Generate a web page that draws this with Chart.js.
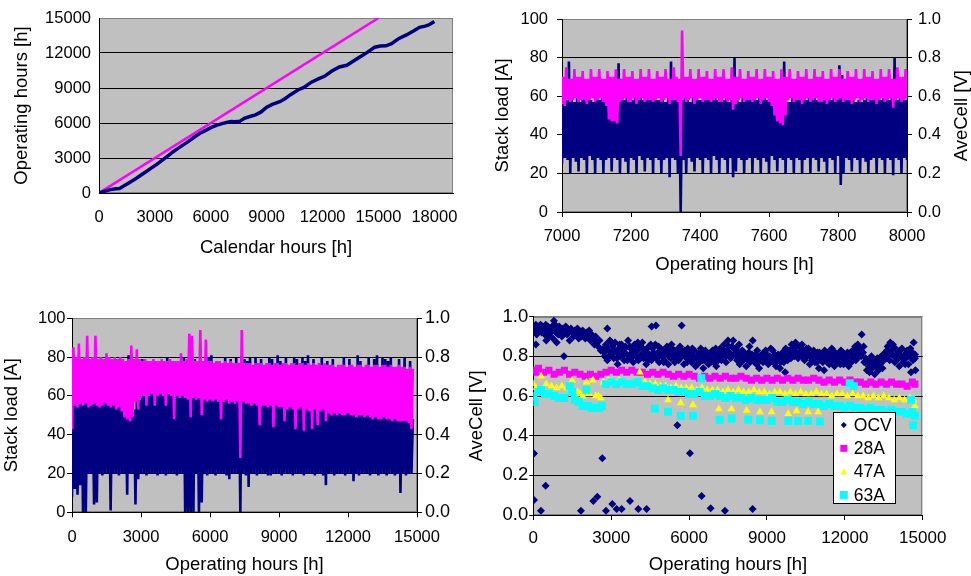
<!DOCTYPE html>
<html><head><meta charset="utf-8">
<script src="https://cdn.jsdelivr.net/npm/chart.js@4/dist/chart.umd.min.js"></script>
<style>
html,body{margin:0;padding:0;background:#fff;}
body{width:971px;height:576px;position:relative;overflow:hidden;}
.box{position:absolute;overflow:hidden;}
canvas{position:absolute;}
</style></head><body>
<div class="box" style="left:0;top:0;width:480px;height:270px"><canvas id="c1" width="480" height="270" style="left:0;top:0;width:480px;height:270px"></canvas></div>
<div class="box" style="left:480px;top:0;width:491px;height:285px"><canvas id="c2" width="491" height="285" style="left:0;top:0;width:491px;height:285px"></canvas></div>
<div class="box" style="left:0;top:295px;width:454px;height:281px"><canvas id="c3" width="500" height="281" style="left:0;top:0;width:500px;height:281px"></canvas></div>
<div class="box" style="left:454px;top:295px;width:517px;height:281px;background:#fff"><canvas id="c4" width="517" height="281" style="left:0;top:0;width:517px;height:281px"></canvas></div>
<script>
// ---------------- DATA ----------------
// Chart 1: calendar hours vs operating hours
const calHours = [0,300,600,900,1100,1300,1600,1900,2200,2500,2800,3100,3400,3700,4000,4200,4500,4800,5100,5400,5700,6000,6300,6600,6900,7100,7300,7550,7800,8100,8400,8700,9000,9300,9700,10000,10300,10700,11000,11400,11800,12100,12500,12900,13300,13700,14000,14400,14800,15100,15400,15700,16100,16500,16900,17200,17500,17700,18000];
const opHours  = [0,150,290,360,390,570,860,1150,1480,1800,2130,2450,2820,3190,3560,3780,4100,4420,4780,5100,5350,5600,5800,5950,6060,6120,6110,6140,6400,6560,6700,6950,7350,7600,7830,8100,8450,8850,9050,9500,9800,10000,10450,10800,10950,11350,11650,12050,12500,12600,12620,12800,13250,13550,13900,14200,14300,14400,14700];
const idealCal = [0,15000];
const idealOp  = [0,15000];
const calTicks = [0,3000,6000,9000,12000,15000,18000];

// Chart 2: 7000-8000 h detail, per 8 h bin: low / high readings
const start2 = 7000, bin2 = 8;
const load2Low = [
25,28,27, 20,28,26, 21,28,27, 20,29,27, 20,28,27, 20,27,28,
21,28,27, 20,28,26, 20,28,27, 20,29,27, 21,28,27, 20,28,27,
20,27,28, 18,28,27, 20,0,27, 20,28,26, 21,28,27, 20,28,27,
20,29,27, 20,28,27, 20,28,18, 21,28,27, 20,27,28, 20,28,27,
20,28,26, 20,29,27, 21,28,27, 20,28,27, 20,28,27, 20,27,28,
20,28,27, 21,28,26, 20,28,27, 20,29,14, 20,28,27, 21,28,27,
20,28,26, 20,27,28, 20,28,27, 20,28,27, 19,28,27, 20,28,27];
const load2High = [
58,59,78, 58,57,59, 57,58,59, 58,58,57, 59,58,59, 58,59,58,
58,57,77, 58,58,59, 57,58,59, 58,59,58, 58,58,59, 59,58,58,
58,57,59, 78,58,59, 58,58,59, 58,57,59, 59,58,58, 58,58,59,
58,59,58, 58,58,59, 57,58,80, 58,57,59, 58,58,58, 58,58,59,
59,59,58, 58,58,59, 58,58,78, 57,57,59, 58,58,58, 59,58,59,
58,59,58, 58,58,59, 58,58,59, 58,76,71, 59,58,59, 58,57,58,
57,58,59, 58,59,58, 59,58,59, 58,58,59, 80,58,59, 58,58,57];
const cell2Low = [
0.56,0.55,0.58, 0.57,0.58,0.59, 0.57,0.58,0.58, 0.56,0.58,0.59, 0.57,0.58,0.59, 0.57,0.55,0.48,
0.47,0.47,0.46, 0.57,0.58,0.59, 0.57,0.57,0.59, 0.56,0.58,0.59, 0.57,0.58,0.58, 0.57,0.58,0.59,
0.57,0.58,0.59, 0.56,0.58,0.58, 0.57,0.29,0.59, 0.57,0.58,0.59, 0.56,0.58,0.59, 0.57,0.58,0.58,
0.57,0.58,0.59, 0.57,0.57,0.59, 0.57,0.58,0.53, 0.56,0.58,0.59, 0.57,0.58,0.58, 0.57,0.58,0.59,
0.56,0.58,0.59, 0.57,0.55,0.50, 0.47,0.46,0.45, 0.50,0.58,0.59, 0.57,0.58,0.58, 0.56,0.58,0.59,
0.57,0.58,0.59, 0.57,0.57,0.58, 0.56,0.58,0.59, 0.57,0.58,0.59, 0.57,0.58,0.58, 0.56,0.58,0.59,
0.57,0.58,0.59, 0.57,0.58,0.58, 0.56,0.58,0.59, 0.57,0.58,0.59, 0.54,0.58,0.59, 0.57,0.58,0.59];
const cell2High = [
0.70,0.75,0.69, 0.69,0.74,0.70, 0.70,0.73,0.69, 0.69,0.74,0.70, 0.70,0.74,0.69, 0.69,0.73,0.70,
0.70,0.74,0.69, 0.69,0.74,0.70, 0.70,0.73,0.69, 0.69,0.74,0.70, 0.70,0.74,0.69, 0.69,0.73,0.70,
0.70,0.74,0.69, 0.69,0.75,0.70, 0.69,0.94,0.70, 0.70,0.74,0.69, 0.69,0.74,0.70, 0.70,0.73,0.69,
0.69,0.74,0.70, 0.70,0.74,0.69, 0.69,0.75,0.70, 0.70,0.74,0.69, 0.69,0.73,0.70, 0.70,0.74,0.69,
0.69,0.74,0.70, 0.70,0.73,0.69, 0.69,0.74,0.70, 0.70,0.74,0.69, 0.69,0.73,0.70, 0.70,0.74,0.69,
0.69,0.74,0.70, 0.70,0.73,0.69, 0.69,0.74,0.70, 0.70,0.74,0.69, 0.69,0.73,0.70, 0.70,0.74,0.69,
0.69,0.74,0.70, 0.70,0.73,0.69, 0.69,0.74,0.70, 0.70,0.74,0.69, 0.69,0.75,0.70, 0.70,0.74,0.69];

// Chart 3: 0-14760 h, per 120 h bin: low / high readings
const start3 = 0, bin3 = 120;
const cell3High = [
0.85,0.80,0.87,0.79,0.80,0.91,0.79,0.80,0.91,0.79,
0.80,0.79,0.82,0.80,0.79,0.80,0.79,0.80,0.79,0.78,
0.79,0.86,0.79,0.84,0.79,0.78,0.79,0.78,0.78,0.79,
0.78,0.78,0.79,0.78,0.78,0.79,0.78,0.78,0.78,0.82,
0.78,0.79,0.92,0.91,0.78,0.78,0.94,0.78,0.89,0.78,
0.78,0.77,0.78,0.78,0.77,0.78,0.77,0.78,0.77,0.77,
0.77,0.94,0.77,0.77,0.77,0.76,0.77,0.77,0.77,0.76,
0.77,0.77,0.76,0.77,0.77,0.76,0.77,0.77,0.76,0.77,
0.77,0.76,0.77,0.77,0.76,0.77,0.76,0.77,0.76,0.77,
0.76,0.77,0.76,0.76,0.76,0.75,0.76,0.76,0.76,0.75,
0.76,0.76,0.75,0.76,0.76,0.75,0.76,0.76,0.75,0.76,
0.76,0.75,0.76,0.76,0.75,0.76,0.75,0.75,0.76,0.75,
0.75,0.74,0.75,0.74];
const cell3Low = [
0.43,0.55,0.54,0.56,0.55,0.56,0.54,0.55,0.56,0.55,
0.54,0.55,0.56,0.55,0.54,0.55,0.53,0.54,0.52,0.49,
0.48,0.47,0.49,0.57,0.53,0.59,0.60,0.55,0.60,0.61,
0.55,0.60,0.61,0.60,0.55,0.61,0.60,0.48,0.60,0.59,
0.60,0.59,0.58,0.49,0.59,0.58,0.59,0.50,0.58,0.57,
0.58,0.57,0.58,0.57,0.48,0.57,0.58,0.56,0.57,0.56,
0.57,0.28,0.57,0.56,0.56,0.55,0.56,0.55,0.45,0.55,
0.55,0.54,0.55,0.44,0.55,0.54,0.54,0.47,0.53,0.54,
0.53,0.43,0.53,0.54,0.42,0.53,0.52,0.43,0.53,0.45,
0.52,0.53,0.47,0.51,0.50,0.51,0.50,0.51,0.50,0.50,
0.51,0.50,0.50,0.49,0.50,0.50,0.49,0.50,0.49,0.48,
0.49,0.48,0.48,0.49,0.48,0.48,0.47,0.48,0.47,0.47,
0.47,0.47,0.46,0.43];
const load3High = [
57,58,56,58,57,58,57,56,58,57,
58,57,80,58,57,58,79,78,55,52,
81,52,53,60,58,79,62,61,62,63,
62,62,63,62,80,62,63,62,78,62,
80,62,61,60,79,61,62,60,60,80,
81,60,78,60,60,80,59,79,60,80,
60,81,79,78,80,58,80,58,79,58,
58,80,79,58,81,78,57,80,56,56,
80,79,56,80,78,81,56,79,55,56,
80,55,78,54,79,53,53,54,80,53,
79,53,52,81,78,53,52,80,52,79,
81,51,80,79,78,80,51,50,79,50,
80,50,78,48];
const load3Low = [
8,12,9,14,0,0,20,20,4,5,
20,19,20,20,1,20,20,19,20,20,
9,20,20,4,17,20,20,19,20,20,
20,19,20,20,19,20,20,20,19,20,
20,0,0,0,0,20,0,5,20,19,
20,20,19,20,20,20,19,17,20,20,
20,0,20,19,13,20,20,19,20,20,
20,19,19,20,20,20,19,20,20,20,
19,20,20,20,19,20,20,20,19,20,
20,19,14,20,20,19,20,20,20,19,
20,20,16,20,19,20,20,20,19,20,
20,19,20,20,19,20,20,19,20,10,
20,19,20,20];

// Chart 4: AveCell vs operating hours (OCV, 28A, 47A, 63A)
const seriesNames4 = ['OCV','28A','47A','63A'];
const ocvPts = [
[0,0.92],[30,0.95],[60,0.93],[100,0.96],[130,0.91],[170,0.94],[200,0.95],[240,0.93],[280,0.96],[320,0.92],[360,0.95],[400,0.94],[440,0.91],[480,0.96],[520,0.93],[560,0.95],[600,0.90],[640,0.94],[680,0.92],[720,0.95],[760,0.89],[800,0.93],[840,0.96],[880,0.92],[920,0.94],[960,0.91],[1000,0.95],[1050,0.93],[1100,0.90],[1150,0.94],[1200,0.92],[1250,0.95],[1300,0.91],[1350,0.93],[1400,0.88],[1450,0.94],[1500,0.92],[1550,0.90],[1600,0.93],[1650,0.91],[1700,0.94],[1750,0.89],[1800,0.92],[1850,0.90],[1900,0.93],[1950,0.91],[2000,0.89],[2050,0.92],[2100,0.90],[2150,0.93],[2200,0.88],[2250,0.91],[2300,0.89],[2350,0.86],[2400,0.90],[2450,0.87],[2500,0.85],[2550,0.88],[2600,0.83],
[100,0.86],[500,0.88],[900,0.87],[1180,0.80],[796,0.98],[2850,0.94],[4558,0.95],[4725,0.955],[5714,0.955],
[2700,0.84],[2750,0.80],[2800,0.86],[2850,0.78],[2900,0.83],[2950,0.88],[3000,0.81],[3050,0.85],[3100,0.79],[3150,0.87],[3200,0.82],[3250,0.76],[3300,0.84],[3350,0.80],[3400,0.86],[3450,0.83],[3500,0.78],[3550,0.85],[3600,0.81],[3650,0.88],[3700,0.79],[3750,0.84],[3800,0.82],[3850,0.77],[3900,0.86],[3950,0.80],[4000,0.83],[4050,0.78],[4100,0.85],[4150,0.81],[4200,0.87],[4250,0.79],[4300,0.83],[4350,0.76],[4400,0.82],[4450,0.85],[4500,0.80],[4550,0.78],[4600,0.84],[4650,0.81],[4700,0.86],[4750,0.79],[4800,0.82],[4850,0.77],[4900,0.84],[4950,0.80],[5000,0.83],[5050,0.78],[5100,0.81],[5150,0.85],[5200,0.76],[5250,0.82],[5300,0.79],[5350,0.84],[5400,0.80],[5450,0.77],[5500,0.83],[5550,0.81],[5600,0.78],[5650,0.85],[5700,0.80],[5750,0.82],[5800,0.76],[5850,0.81],[5900,0.79],[5950,0.84],
[6000,0.78],[6050,0.82],[6100,0.77],[6150,0.80],[6200,0.83],[6250,0.75],[6300,0.79],[6350,0.81],[6400,0.77],[6450,0.84],[6500,0.80],[6550,0.74],[6600,0.78],[6650,0.82],[6700,0.79],[6750,0.76],[6800,0.81],[6850,0.78],[6900,0.83],[6950,0.77],[7000,0.80],[7050,0.75],[7100,0.82],[7150,0.79],[7200,0.84],[7250,0.78],[7300,0.81],[7350,0.86],[7400,0.80],[7450,0.83],[7500,0.88],[7550,0.82],[7600,0.79],[7650,0.85],[7700,0.88],[7750,0.81],[7800,0.84],[7850,0.78],[7900,0.82],[7950,0.76],[8000,0.80],[8050,0.83],[8100,0.78],[8150,0.81],[8200,0.75],[8250,0.79],[8300,0.82],[8350,0.77],[8400,0.80],[8450,0.88],[8500,0.78],[8550,0.81],[8600,0.76],[8650,0.79],[8700,0.74],[8750,0.78],[8800,0.81],[8850,0.77],[8900,0.80],[8950,0.83],
[9000,0.78],[9050,0.76],[9100,0.80],[9150,0.84],[9200,0.79],[9250,0.77],[9300,0.81],[9350,0.75],[9400,0.78],[9450,0.80],[9500,0.74],[9550,0.79],[9600,0.82],[9650,0.77],[9700,0.72],[9750,0.80],[9800,0.78],[9850,0.83],[9900,0.81],[9950,0.86],[10000,0.84],[10050,0.80],[10100,0.87],[10150,0.82],[10200,0.79],[10250,0.85],[10300,0.81],[10350,0.86],[10400,0.83],[10450,0.78],[10500,0.82],[10550,0.80],[10600,0.84],[10650,0.76],[10700,0.81],[10750,0.79],[10800,0.83],[10850,0.77],[10900,0.80],[10950,0.82],[11000,0.74],[11050,0.79],[11100,0.81],[11150,0.77],[11200,0.73],[11250,0.80],[11300,0.78],[11350,0.82],[11400,0.76],[11450,0.79],[11500,0.84],[11550,0.80],[11600,0.75],[11650,0.78],[11700,0.81],[11750,0.77],[11800,0.80],[11850,0.83],[11900,0.79],[11950,0.76],
[12000,0.81],[12050,0.78],[12100,0.82],[12150,0.75],[12200,0.80],[12250,0.77],[12300,0.83],[12350,0.79],[12400,0.85],[12450,0.81],[12500,0.86],[12550,0.80],[12600,0.84],[12650,0.91],[12700,0.82],[12750,0.77],[12800,0.79],[12850,0.73],[12900,0.76],[12950,0.72],[13000,0.78],[13050,0.74],[13100,0.77],[13150,0.71],[13200,0.75],[13250,0.79],[13300,0.73],[13350,0.76],[13400,0.80],[13450,0.74],[13500,0.78],[13550,0.82],[13600,0.79],[13650,0.85],[13700,0.81],[13750,0.87],[13800,0.83],[13850,0.86],[13900,0.80],[13950,0.84],[14000,0.78],[14050,0.82],[14100,0.75],[14150,0.80],[14200,0.84],[14250,0.77],[14300,0.81],[14350,0.79],[14400,0.83],[14450,0.76],[14500,0.80],[14550,0.72],[14600,0.82],[14650,0.87],[14700,0.79],[14720,0.73],
[2725,0.82],[2825,0.85],[2925,0.80],[3025,0.87],[3125,0.83],[3225,0.79],[3325,0.86],[3425,0.81],[3525,0.84],[3625,0.78],[3725,0.85],[3825,0.80],[3925,0.83],[4025,0.87],[4125,0.79],[4225,0.84],[4325,0.81],[4425,0.78],[4525,0.86],[4625,0.82],[4725,0.79],[4825,0.85],[4925,0.81],[5025,0.77],[5125,0.83],[5225,0.80],[5325,0.86],[5425,0.82],[5525,0.79],[5625,0.84],[5725,0.80],[5825,0.83],[5925,0.77],[6025,0.81],[6125,0.84],[6225,0.79],[6325,0.76],[6425,0.82],[6525,0.78],[6625,0.83],[6725,0.80],[6825,0.77],[6925,0.81],[7025,0.84],[7125,0.78],[7225,0.80],[7325,0.83],[7425,0.77],[7525,0.85],[7625,0.81],[7725,0.84],[7825,0.80],[7925,0.86],[8025,0.78],[8125,0.82],[8225,0.79],[8325,0.85],[8425,0.81],[8525,0.77],[8625,0.83],[8725,0.80],[8825,0.78],[8925,0.82],
[9025,0.80],[9125,0.77],[9225,0.83],[9325,0.79],[9425,0.81],[9525,0.77],[9625,0.80],[9725,0.84],[9825,0.81],[9925,0.79],[10025,0.82],[10125,0.85],[10225,0.80],[10325,0.83],[10425,0.79],[10525,0.84],[10625,0.81],[10725,0.78],[10825,0.80],[10925,0.77],[11025,0.82],[11125,0.79],[11225,0.83],[11325,0.77],[11425,0.81],[11525,0.78],[11625,0.82],[11725,0.79],[11825,0.76],[11925,0.82],[12025,0.79],[12125,0.77],[12225,0.82],[12325,0.80],[12425,0.78],[12525,0.83],[12625,0.80],[12725,0.85],[12825,0.78],[12925,0.75],[13025,0.80],[13125,0.76],[13225,0.78],[13325,0.74],[13425,0.77],[13525,0.80],[13625,0.83],[13725,0.78],[13825,0.81],[13925,0.77],[14025,0.80],[14125,0.83],[14225,0.79],[14325,0.76],[14425,0.80],[14525,0.84],[14625,0.78],[14700,0.81],
[26,0.31],[26,0.076],[295,0.022],[475,0.148],[1836,0.022],[2311,0.07],[2465,0.092],[2658,0.286],[2800,0.022],[3043,0.055],[3210,0.03],[3403,0.03],[3724,0.07],[4045,0.03],[4366,0.03],[5547,0.452],[6035,0.311],[6484,0.096],[6831,0.034],[7383,0.022],[8449,0.03]];
const a28Pts = [[0,0.73],[100,0.72],[200,0.74],[400,0.72],[600,0.73],[800,0.71],[1000,0.72],[1200,0.73],[1400,0.71],[1600,0.72],[1800,0.71],[2000,0.70],[2200,0.71],[2400,0.70],[2600,0.71],[2800,0.72],[3000,0.73],[3200,0.72],[3400,0.73],[3600,0.72],[3800,0.73],[4000,0.72],[4200,0.72],[4400,0.71],[4600,0.72],[4800,0.71],[5000,0.72],[5200,0.71],[5400,0.70],[5600,0.71],[5800,0.70],[6000,0.71],[6200,0.70],[6400,0.69],[6600,0.70],[6800,0.69],[7000,0.70],[7200,0.69],[7400,0.70],[7600,0.69],[7800,0.69],[8000,0.70],[8200,0.69],[8400,0.68],[8600,0.69],[8800,0.68],[9000,0.69],[9200,0.68],[9400,0.69],[9600,0.68],[9800,0.69],[10000,0.68],[10200,0.69],[10400,0.68],[10600,0.68],[10800,0.69],[11000,0.68],[11200,0.67],[11400,0.68],[11600,0.67],[11800,0.68],[12000,0.67],[12200,0.68],[12400,0.67],[12600,0.67],[12800,0.66],[13000,0.67],[13200,0.66],[13400,0.67],[13600,0.66],[13800,0.67],[14000,0.66],[14200,0.66],[14400,0.65],[14600,0.67],[14700,0.66]];
const a47Pts = [[0,0.66],[100,0.64],[300,0.70],[500,0.66],[700,0.65],[900,0.64],[1100,0.65],[1300,0.64],[1500,0.68],[1700,0.62],[1800,0.61],[1900,0.60],[2050,0.67],[2150,0.61],[2300,0.68],[2400,0.60],[2500,0.60],[2600,0.59],[2700,0.67],[2900,0.68],[3100,0.67],[3300,0.68],[3500,0.67],[3700,0.66],[3900,0.67],[4100,0.72],[4300,0.67],[4500,0.66],[4700,0.66],[4900,0.65],[5100,0.65],[5300,0.64],[5500,0.65],[5700,0.64],[5900,0.64],[6100,0.64],[6300,0.63],[6500,0.64],[6700,0.63],[6900,0.63],[7100,0.63],[7300,0.62],[7500,0.63],[7700,0.62],[7900,0.63],[8100,0.62],[8300,0.62],[8500,0.63],[8700,0.62],[8900,0.62],[9100,0.61],[9300,0.62],[9500,0.62],[9700,0.61],[9900,0.62],[10100,0.61],[10300,0.62],[10500,0.61],[10700,0.61],[10900,0.62],[11100,0.61],[11300,0.61],[11500,0.60],[11700,0.61],[11900,0.61],[12100,0.60],[12300,0.61],[12500,0.60],[12700,0.60],[12900,0.59],[13100,0.60],[13300,0.59],[13500,0.60],[13700,0.59],[13900,0.58],[14100,0.59],[14300,0.58],[14500,0.59],[14650,0.58],[14700,0.55],
[5190,0.58],[5680,0.565],[6150,0.555],[7150,0.535],[7640,0.534],[8220,0.527],[8730,0.52],[9180,0.52],[9820,0.51],[10140,0.525],[10590,0.52],[10970,0.52]];
const a63Pts = [[0,0.60],[50,0.57],[200,0.62],[300,0.63],[450,0.61],[600,0.61],[800,0.60],[1000,0.59],[1200,0.59],[1400,0.65],[1500,0.62],[1600,0.58],[1750,0.57],[1900,0.55],[2050,0.63],[2100,0.55],[2250,0.54],[2400,0.54],[2550,0.54],[2650,0.55],[2800,0.66],[3000,0.67],[3200,0.66],[3400,0.67],[3600,0.66],[3800,0.66],[4000,0.67],[4200,0.65],[4400,0.65],[4600,0.64],[4800,0.63],[5000,0.64],[5200,0.63],[5400,0.63],[5600,0.62],[5800,0.62],[6000,0.61],[6200,0.61],[6400,0.62],[6600,0.60],[6800,0.60],[7000,0.61],[7200,0.60],[7400,0.59],[7600,0.60],[7800,0.59],[8000,0.59],[8200,0.58],[8400,0.59],[8600,0.58],[8800,0.58],[9000,0.58],[9200,0.59],[9400,0.57],[9600,0.57],[9800,0.58],[10000,0.57],[10200,0.57],[10400,0.56],[10600,0.57],[10800,0.56],[11000,0.56],[11200,0.55],[11400,0.56],[11600,0.55],[11800,0.55],[12000,0.54],[12200,0.55],[12400,0.54],[12600,0.54],[12800,0.53],[13000,0.54],[13200,0.53],[13400,0.53],[13600,0.52],[13800,0.53],[14000,0.52],[14200,0.52],[14400,0.51],[14600,0.52],[14700,0.50],
[4680,0.537],[5190,0.52],[5680,0.50],[6150,0.50],[6470,0.69],[7180,0.48],[7640,0.487],[8280,0.48],[8730,0.478],[9180,0.475],[9820,0.475],[10200,0.475],[10590,0.475],[11040,0.47],[12190,0.665],[12350,0.65],[14630,0.453],[14550,0.58]];

// ---------------- HELPERS ----------------
const FONT = "'Liberation Sans', Arial, Helvetica, sans-serif";
Chart.defaults.color = '#000';
Chart.defaults.font.family = FONT;
const NAVY = '#000080', MAG = '#ff00ff', YEL = '#ffff00', CYA = '#00ffff';
const seriesColors4 = [NAVY, MAG, YEL, CYA];

function pairs(xs, ys) { return xs.map((x, i) => ({x, y: ys[i]})); }
function pts(arr) { return arr.map(p => ({x: p[0], y: p[1]})); }
// low/high readings per bin -> alternating polyline
function binsToLine(start, step, lows, highs) {
  const out = [];
  for (let i = 0; i < lows.length; i++) {
    out.push({x: start + step * i, y: lows[i]});
    out.push({x: start + step * i + step / 2, y: highs[i]});
  }
  return out;
}
const near = (a, b) => Math.abs(a - b) < 1e-6;

const plotBg = {
  id: 'plotBg',
  beforeDraw(chart) {
    const a = chart.chartArea, c = chart.ctx;
    c.save();
    c.fillStyle = '#c0c0c0';
    c.fillRect(a.left, a.top, a.right - a.left, a.bottom - a.top);
    c.strokeStyle = '#808080'; c.lineWidth = 1;
    c.strokeRect(Math.round(a.left) + 0.5, Math.round(a.top) + 0.5, Math.round(a.right - a.left) - 1, Math.round(a.bottom - a.top) - 1);
    c.restore();
  }
};
function sideTitle(id, text, x, y) {
  return { id, afterDraw(chart) {
    const c = chart.ctx; c.save(); c.translate(x, y); c.rotate(-Math.PI / 2);
    c.font = '18.5px ' + FONT; c.fillStyle = '#000'; c.textAlign = 'center'; c.textBaseline = 'middle';
    c.fillText(text, 0, 0); c.restore();
  }};
}
const legend4 = {
  id: 'legend4',
  afterDraw(chart) {
    const c = chart.ctx;
    const L = 379.3, T = 117;
    c.save();
    c.fillStyle = '#fff'; c.fillRect(L, T, 62, 91);
    c.strokeStyle = '#000'; c.lineWidth = 1; c.strokeRect(Math.round(L) + 0.5, T + 0.5, 62, 91);
    c.font = '17.5px ' + FONT; c.textBaseline = 'middle'; c.textAlign = 'left';
    seriesNames4.forEach((name, k) => {
      const y = T + 13 + k * 23.3, x = L + 10.5;
      c.fillStyle = seriesColors4[k];
      c.beginPath();
      if (k === 0) { c.moveTo(x, y - 3); c.lineTo(x + 3, y); c.lineTo(x, y + 3); c.lineTo(x - 3, y); }
      else if (k === 2) { c.moveTo(x, y - 3.5); c.lineTo(x + 3.5, y + 3); c.lineTo(x - 3.5, y + 3); }
      else { const h = k === 3 ? 4 : 3.5; c.rect(x - h, y - h, 2 * h, 2 * h); }
      c.closePath(); c.fill();
      c.fillStyle = '#000'; c.fillText(name, L + 20.5, y + 1);
    });
    c.restore();
  }
};
const base = { responsive: false, animation: false, devicePixelRatio: 1,
  plugins: { legend: { display: false }, tooltip: { enabled: false } } };
const TF = { size: 16.5 }, HF = { size: 18.5 };
const LW = 2.6;

// ---------------- CHART 1 ----------------
new Chart(document.getElementById('c1'), {
  type: 'line',
  data: { datasets: [
    { label: 'Operating hours', data: pairs(calHours, opHours), borderColor: NAVY, borderWidth: 3.5, pointRadius: 0, order: 0 },
    { label: 'Calendar hours', data: pairs(idealCal, idealOp), borderColor: MAG, borderWidth: 2.5, pointRadius: 0, order: 1 }
  ]},
  options: Object.assign({}, base, {
    layout: { padding: { top: 18, right: 27, left: 0, bottom: 0 } },
    scales: {
      x: { type: 'linear', min: 0, max: 19000, afterFit: s => { s.height = 77; },
        afterBuildTicks: s => { s.ticks = calTicks.map(v => ({ value: v })); },
        ticks: { padding: 15, font: TF, maxRotation: 0, autoSkip: false, callback: v => String(v) },
        grid: { drawOnChartArea: false, drawTicks: false }, border: { color: '#000' },
        title: { display: true, text: 'Calendar hours [h]', font: HF, padding: { top: 0, bottom: 10.6 } } },
      y: { min: 0, max: 15000, afterFit: s => { s.width = 99; },
        ticks: { stepSize: 3000, padding: 8, font: TF, callback: v => String(v) },
        grid: { color: c => (c.tick && near(c.tick.value, 15000)) ? '#808080' : '#000', drawTicks: false },
        border: { color: '#000' },
        title: { display: true, text: 'Operating hours [h]', font: HF, padding: { top: 11, bottom: 0 } } }
    }
  }),
  plugins: [plotBg]
});

// ---------------- CHART 2 ----------------
new Chart(document.getElementById('c2'), {
  type: 'line',
  data: { datasets: [
    { label: 'AveCell', data: binsToLine(start2, bin2, cell2Low, cell2High), yAxisID: 'y1', borderColor: MAG, borderWidth: LW, borderJoinStyle: 'bevel', pointRadius: 0, order: 0 },
    { label: 'Stack load', data: binsToLine(start2, bin2, load2Low, load2High), yAxisID: 'y', borderColor: NAVY, borderWidth: LW, borderJoinStyle: 'bevel', pointRadius: 0, order: 1 }
  ]},
  options: Object.assign({}, base, {
    layout: { padding: { top: 19, right: 0, left: 0, bottom: 0 } },
    scales: {
      x: { type: 'linear', min: 7000, max: 8000, afterFit: s => { s.height = 73; },
        ticks: { stepSize: 200, padding: 10, font: TF, maxRotation: 0, autoSkip: false, callback: v => String(v) },
        grid: { drawOnChartArea: false, tickLength: 5, color: '#000' }, border: { color: '#000' },
        title: { display: true, text: 'Operating hours [h]', font: HF, padding: { top: 0, bottom: 9 } } },
      y: { position: 'left', min: 0, max: 100, afterFit: s => { s.width = 82; },
        ticks: { stepSize: 20, padding: 9, font: TF },
        grid: { color: c => (c.tick && near(c.tick.value, 100)) ? '#808080' : '#000', tickLength: 5, tickColor: '#000' },
        border: { color: '#000' },
        title: { display: true, text: 'Stack load [A]', font: HF, padding: { top: 11.6, bottom: 0 } } },
      y1: { position: 'right', min: 0, max: 1, afterFit: s => { s.width = 64; },
        ticks: { stepSize: 0.2, padding: 6, font: TF, callback: v => v.toFixed(1) },
        grid: { drawOnChartArea: false, tickLength: 5, color: '#000' }, border: { color: '#000' } }
    }
  }),
  plugins: [plotBg, sideTitle('t2', 'AveCell [V]', 481.7, 115.7)]
});

// ---------------- CHART 3 ----------------
new Chart(document.getElementById('c3'), {
  type: 'line',
  data: { datasets: [
    { label: 'AveCell', data: binsToLine(start3, bin3, cell3Low, cell3High), yAxisID: 'y1', borderColor: MAG, borderWidth: LW, borderJoinStyle: 'bevel', pointRadius: 0, order: 0 },
    { label: 'Stack load', data: binsToLine(start3, bin3, load3Low, load3High), yAxisID: 'y', borderColor: NAVY, borderWidth: LW, borderJoinStyle: 'bevel', pointRadius: 0, order: 1 }
  ]},
  options: Object.assign({}, base, {
    layout: { padding: { top: 23.3, right: 0, left: 0, bottom: 0 } },
    scales: {
      x: { type: 'linear', min: 0, max: 15000, afterFit: s => { s.height = 63.7; },
        ticks: { stepSize: 3000, padding: 10, font: TF, maxRotation: 0, autoSkip: false, callback: v => String(v) },
        grid: { drawOnChartArea: false, tickLength: 5, color: '#000' }, border: { color: '#000' },
        title: { display: true, text: 'Operating hours [h]', font: HF, padding: { top: 0, bottom: 0 } } },
      y: { position: 'left', min: 0, max: 100, afterFit: s => { s.width = 72; },
        ticks: { stepSize: 20, padding: 1.5, font: TF },
        grid: { color: c => (c.tick && near(c.tick.value, 100)) ? '#808080' : '#000', tickLength: 5, tickColor: '#000' },
        border: { color: '#000' },
        title: { display: true, text: 'Stack load [A]', font: HF, padding: { top: 0.9, bottom: 0 } } },
      y1: { position: 'right', min: 0, max: 1, afterFit: s => { s.width = 83; },
        ticks: { stepSize: 0.2, padding: 3, font: { size: 18 }, callback: v => v.toFixed(1) },
        grid: { drawOnChartArea: false, tickLength: 5, color: '#000' }, border: { color: '#000' } }
    }
  }),
  plugins: [plotBg]
});

// ---------------- CHART 4 ----------------
const ptBase = { showLine: false, pointBorderWidth: 0 };
new Chart(document.getElementById('c4'), {
  type: 'scatter',
  data: { datasets: [
    Object.assign({ label: seriesNames4[0], data: pts(ocvPts), pointStyle: 'rectRot', pointRadius: 4, backgroundColor: NAVY, order: 3 }, ptBase),
    Object.assign({ label: seriesNames4[1], data: pts(a28Pts), pointStyle: 'rect', pointRadius: 5, backgroundColor: MAG, order: 2 }, ptBase),
    Object.assign({ label: seriesNames4[2], data: pts(a47Pts), pointStyle: 'triangle', pointRadius: 4.5, backgroundColor: YEL, order: 1 }, ptBase),
    Object.assign({ label: seriesNames4[3], data: pts(a63Pts), pointStyle: 'rect', pointRadius: 5.6, backgroundColor: CYA, order: 0 }, ptBase)
  ]},
  options: Object.assign({}, base, {
    layout: { padding: { top: 21.7, right: 48.3, left: 0, bottom: 0 } },
    scales: {
      x: { type: 'linear', min: 0, max: 15000, afterFit: s => { s.height = 61; },
        ticks: { stepSize: 3000, padding: 8, font: { size: 17 }, maxRotation: 0, autoSkip: false, callback: v => String(v) },
        grid: { drawOnChartArea: false, tickLength: 5, color: '#000' }, border: { color: '#000' },
        title: { display: true, text: 'Operating hours [h]', font: HF, padding: { top: 0, bottom: 0 } } },
      y: { min: 0, max: 1, afterFit: s => { s.width = 79.3; },
        ticks: { stepSize: 0.2, padding: 1, font: { size: 18.5 }, callback: v => v.toFixed(1) },
        grid: { color: c => (c.tick && near(c.tick.value, 1)) ? '#808080' : '#000', tickLength: 4, tickColor: '#000' },
        border: { color: '#000' },
        title: { display: true, text: 'AveCell [V]', font: HF, padding: { top: 12, bottom: 0 } } }
    }
  }),
  plugins: [plotBg, legend4]
});
</script>
</body></html>
